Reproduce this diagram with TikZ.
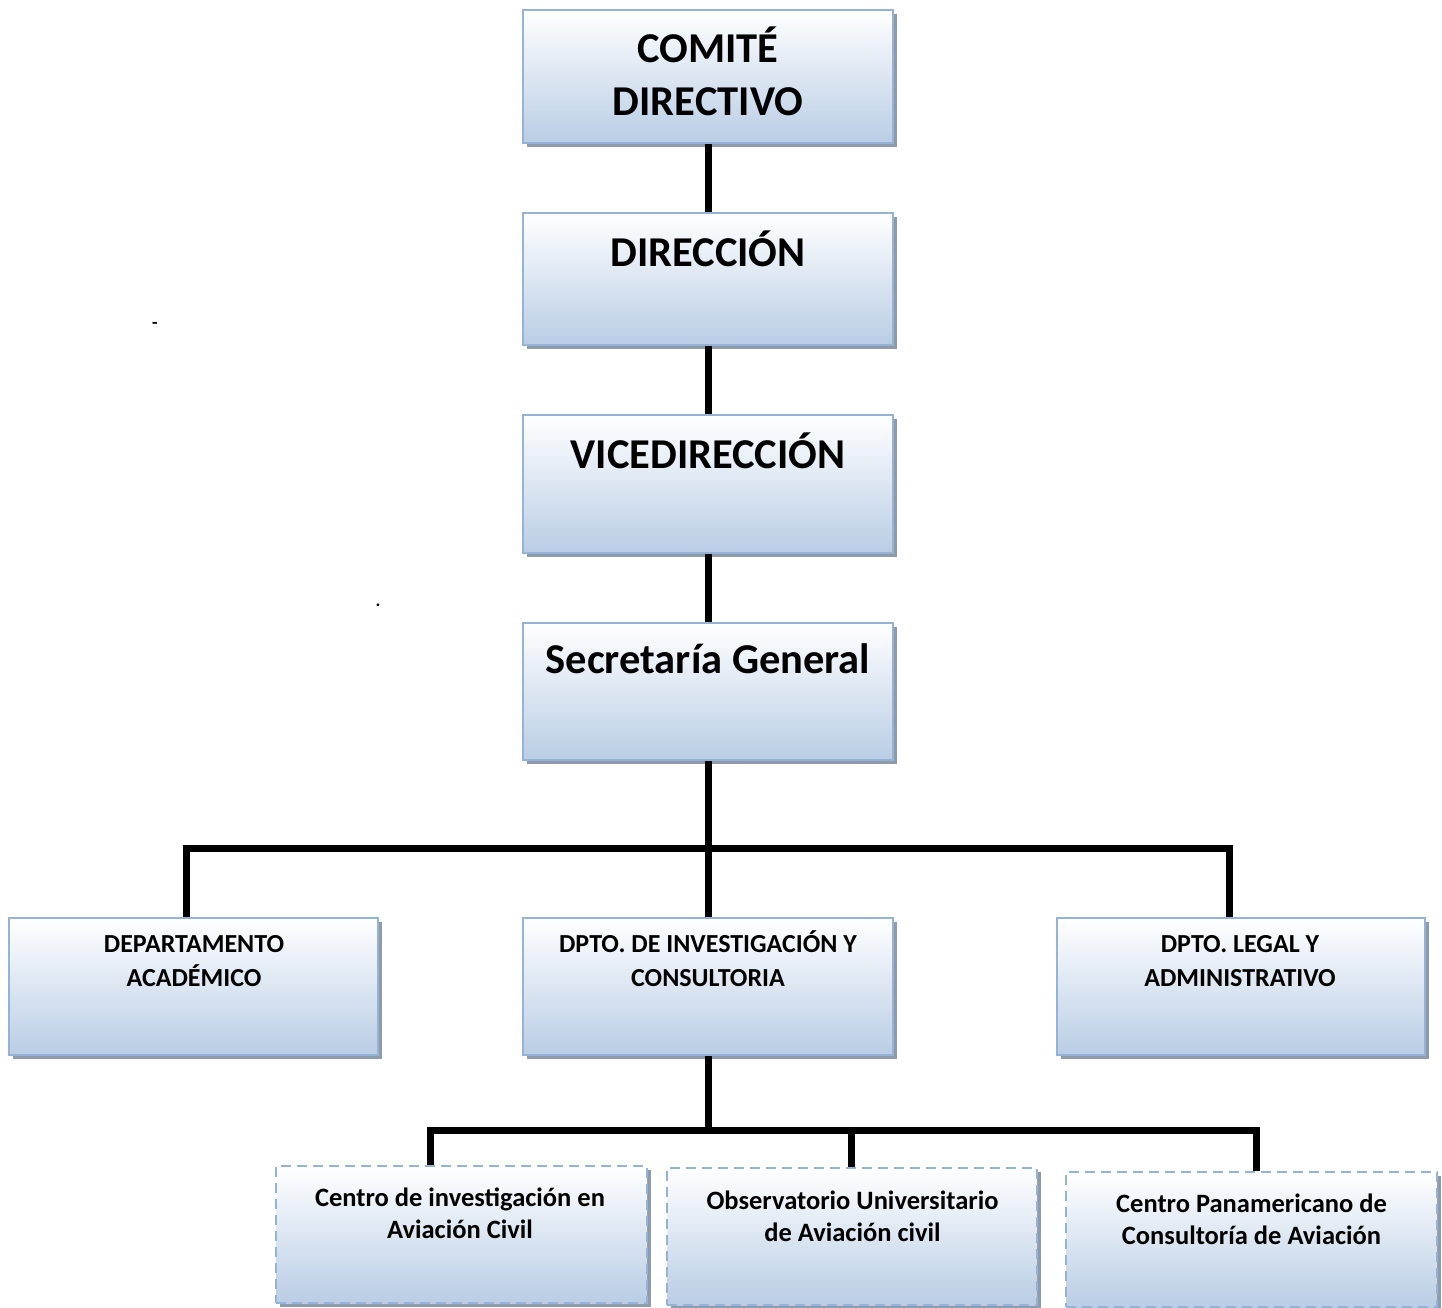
\documentclass[tikz,border=0pt]{standalone}
\usepackage{fontspec}
\setmainfont{Carlito}
\usetikzlibrary{shadows}
\definecolor{boxblue}{HTML}{B9CDE5}
\definecolor{boxline}{HTML}{95B3D7}
\definecolor{shadowc}{HTML}{8E9BAB}
\begin{document}
\begin{tikzpicture}[x=1pt,y=1pt,
 orgbox/.style={draw=boxline, line width=2pt, top color=white, bottom color=boxblue,
   drop shadow={shadow xshift=3.5pt, shadow yshift=-3.5pt, fill=shadowc, opacity=1},
   inner sep=0pt, minimum width=370pt},
 dashbox/.style={orgbox, line width=2.5pt, dash pattern=on 10pt off 6pt},
 conn/.style={line width=7pt, black, line join=miter},
 bigtxt/.style={font=\fontsize{42.5}{52}\selectfont\bfseries, inner sep=0pt, anchor=base},
 depttxt/.style={font=\fontsize{26}{33}\selectfont\bfseries, inner sep=0pt, anchor=base},
 smalltxt/.style={font=\fontsize{26.5}{32}\selectfont\bfseries, inner sep=0pt, anchor=base},
 marktxt/.style={font=\fontsize{18}{20}\selectfont\bfseries, inner sep=0pt},
]
\useasboundingbox (0,0) rectangle (1442,-1307);

% main chain
\node[orgbox, minimum height=133pt] (b1) at (708,-76.5) {};
\node[orgbox, minimum height=132pt] (b2) at (708,-279) {};
\node[orgbox, minimum height=138pt] (b3) at (708,-484) {};
\node[orgbox, minimum height=137pt] (b4) at (708,-691.5) {};

% departments
\node[orgbox, minimum width=369pt, minimum height=137pt] (d1) at (193.5,-986.5) {};
\node[orgbox, minimum height=137pt] (d2) at (708,-986.5) {};
\node[orgbox, minimum width=368pt, minimum height=137pt] (d3) at (1241,-986.5) {};

% centres
\node[dashbox, minimum width=371pt, minimum height=137pt] (c1) at (461.5,-1234.5) {};
\node[dashbox, minimum width=370pt, minimum height=137pt] (c2) at (852,-1236.5) {};
\node[dashbox, minimum width=371pt, minimum height=135pt] (c3) at (1251.5,-1239.5) {};

% texts
\node[bigtxt] (t1a) at (708,-62) {COMITÉ};
\node[bigtxt] (t1b) at (708,-115) {DIRECTIVO};
\node[bigtxt] (t2) at (708,-266) {DIRECCIÓN};
\node[bigtxt] (t3) at (708,-468) {VICEDIRECCIÓN};
\node[bigtxt] (t4) at (708,-673) {Secretaría General};

\node[depttxt] (td1a) at (194,-952) {DEPARTAMENTO};
\node[depttxt] (td1b) at (194,-986) {ACADÉMICO};
\node[depttxt] (td2a) at (708,-952) {DPTO. DE INVESTIGACIÓN Y};
\node[depttxt] (td2b) at (708,-986) {CONSULTORIA};
\node[depttxt] (td3a) at (1240,-952) {DPTO. LEGAL Y};
\node[depttxt] (td3b) at (1240,-986) {ADMINISTRATIVO};

\node[smalltxt] (tc1a) at (460,-1206) {Centro de investigación en};
\node[smalltxt] (tc1b) at (460,-1238) {Aviación Civil};
\node[smalltxt] (tc2a) at (852.5,-1209) {Observatorio Universitario};
\node[smalltxt] (tc2b) at (852.5,-1241) {de Aviación civil};
\node[smalltxt] (tc3a) at (1251.5,-1212) {Centro Panamericano de};
\node[smalltxt] (tc3b) at (1251.5,-1244) {Consultoría de Aviación};

% stray marks
\node[marktxt] (m1) at (155,-325) {-};
\node[marktxt] (m2) at (378,-605) {.};

% connectors
\draw[conn] (b1.south) -- (b2.north);
\draw[conn] (b2.south) -- (b3.north);
\draw[conn] (b3.south) -- (b4.north);
\draw[conn] (b4.south) -- (d2.north);

\coordinate (jL) at (186,-848);
\coordinate (jR) at (1229,-848);
\draw[conn] (jL |- d1.north) -- (jL) -- (jR) -- (jR |- d3.north);

\coordinate (kL) at (430,-1130);
\coordinate (kM) at (851,-1130);
\coordinate (kR) at (1256,-1130);
\draw[conn] (d2.south) -- (d2.south |- kM);
\draw[conn] (kL |- c1.north) -- (kL) -- (kR) -- (kR |- c3.north);
\draw[conn] (kM) -- (kM |- c2.north);
\end{tikzpicture}
\end{document}
